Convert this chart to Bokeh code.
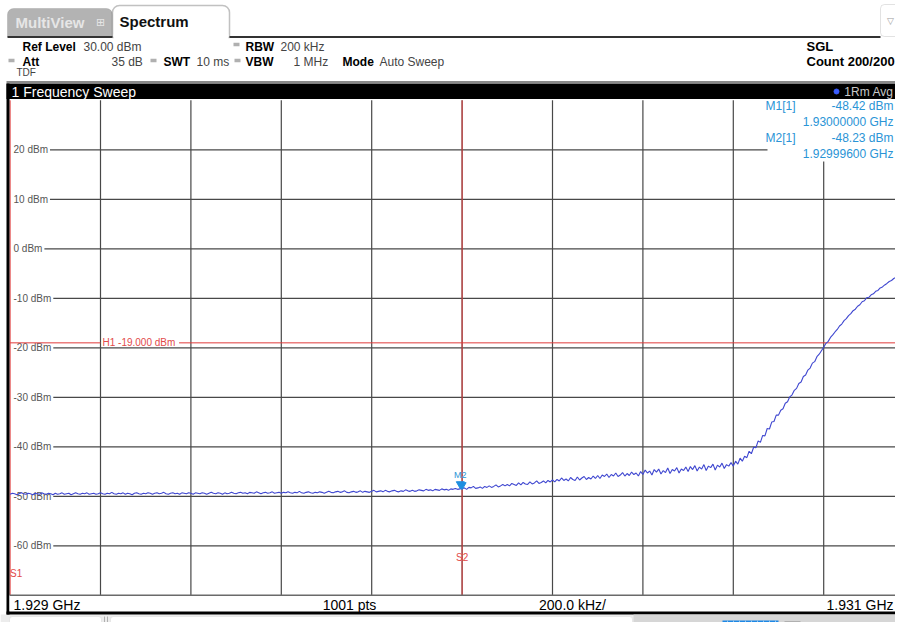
import numpy as np
from bokeh.plotting import figure
from bokeh.models import Range1d, ColumnDataSource, BoxAnnotation
from bokeh.core.properties import value
from bokeh.embed import file_html
from bokeh.resources import INLINE

# ---------------- instrument settings and data ----------------
F_START_GHZ = 1.929
F_STOP_GHZ = 1.931
N_DIV = 10
SWEEP_POINTS = 1001
REF_LEVEL_DBM = 30.0
DB_PER_DIV = 10.0
Y_TICKS_DBM = [20, 10, 0, -10, -20, -30, -40, -50, -60]
Y_TICK_LABELS = ["20 dBm", "10 dBm", "0 dBm", "-10 dBm", "-20 dBm",
                 "-30 dBm", "-40 dBm", "-50 dBm", "-60 dBm"]
H1_LEVEL_DBM = -19.0
S1_FREQ_GHZ = 1.929
S2_FREQ_GHZ = 1.930
M1_FREQ_GHZ = 1.93000000
M1_LEVEL_DBM = -48.42
M2_FREQ_GHZ = 1.92999600
M2_LEVEL_DBM = -48.23

TRACE_DBM = [
    -49.6, -49.4, -49.5, -49.7, -49.5, -49.3, -49.5, -49.6, -49.4, -49.5, -49.7, -49.4, -49.5, -49.6, -49.3, -49.5, -49.6, -49.4, -49.5, -49.7,
    -49.4, -49.6, -49.5, -49.3, -49.6, -49.5, -49.4, -49.7, -49.5, -49.3, -49.5, -49.6, -49.4, -49.5, -49.3, -49.6, -49.5, -49.4, -49.6, -49.5,
    -49.3, -49.5, -49.6, -49.4, -49.5, -49.2, -49.5, -49.6, -49.4, -49.5, -49.3, -49.6, -49.4, -49.5, -49.7, -49.4, -49.3, -49.5, -49.6, -49.4,
    -49.5, -49.3, -49.4, -49.6, -49.4, -49.3, -49.5, -49.4, -49.2, -49.5, -49.6, -49.4, -49.3, -49.5, -49.4, -49.6, -49.3, -49.4, -49.5, -49.3,
    -49.4, -49.6, -49.3, -49.4, -49.5, -49.3, -49.4, -49.6, -49.4, -49.2, -49.4, -49.5, -49.3, -49.4, -49.6, -49.3, -49.5, -49.4, -49.2, -49.4,
    -49.5, -49.3, -49.2, -49.4, -49.3, -49.5, -49.2, -49.3, -49.4, -49.1, -49.3, -49.5, -49.3, -49.2, -49.4, -49.3, -49.1, -49.4, -49.3, -49.2,
    -49.4, -49.2, -49.3, -49.1, -49.3, -49.4, -49.2, -49.3, -49.0, -49.3, -49.4, -49.2, -49.1, -49.3, -49.4, -49.2, -49.3, -49.1, -49.2, -49.4,
    -49.2, -49.0, -49.2, -49.3, -49.1, -49.0, -49.2, -49.1, -48.9, -49.2, -49.3, -49.1, -49.0, -49.2, -49.1, -48.9, -49.2, -49.0, -49.1, -49.2,
    -49.0, -48.8, -49.1, -49.0, -48.9, -49.1, -48.8, -49.0, -49.1, -48.9, -48.8, -49.0, -49.1, -48.9, -49.0, -48.7, -48.9, -49.0, -48.8, -49.0,
    -48.9, -48.7, -48.8, -48.9, -48.6, -48.8, -48.7, -48.9, -48.6, -48.7, -48.8, -48.5, -48.7, -48.6, -48.8, -48.5, -48.6, -48.4, -48.6, -48.5,
    -48.4, -48.3, -48.6, -48.2, -48.3, -48.0, -48.4, -48.3, -48.1, -48.4, -48.0, -48.2, -47.9, -48.2, -48.0, -47.7, -48.1, -47.9, -47.6, -47.9,
    -47.6, -47.9, -47.4, -47.6, -47.8, -47.3, -47.7, -47.2, -47.5, -47.6, -47.1, -47.5, -47.3, -46.9, -47.4, -47.2, -46.9, -47.3, -46.8, -47.1,
    -46.7, -47.1, -46.6, -46.9, -46.3, -46.8, -46.5, -46.9, -46.2, -46.6, -46.8, -46.1, -46.7, -46.3, -46.0, -46.6, -46.2, -46.5, -45.9, -46.4,
    -45.8, -46.4, -45.7, -46.0, -45.5, -46.2, -45.6, -45.9, -45.3, -46.0, -45.7, -45.2, -45.9, -45.4, -45.8, -45.1, -45.6, -45.3, -45.9, -45.0,
    -45.6, -44.7, -45.3, -44.9, -45.7, -44.6, -45.1, -44.5, -45.5, -44.8, -45.2, -44.3, -45.4, -44.6, -44.9, -44.2, -45.3, -44.5, -44.8, -44.1,
    -45.0, -44.0, -44.6, -43.8, -44.9, -44.1, -44.5, -43.6, -44.8, -43.9, -44.2, -43.5, -44.7, -43.7, -44.1, -43.3, -44.4, -43.6, -43.9, -43.2,
    -43.9, -42.9, -43.5, -42.3, -42.9, -41.9, -42.2, -40.9, -41.4, -40.1, -40.2, -38.8, -39.1, -37.7, -37.8, -36.3, -36.4, -35.0, -34.9, -33.6,
    -33.6, -32.6, -32.3, -31.2, -30.9, -29.9, -29.5, -28.6, -28.2, -27.2, -26.9, -25.8, -25.5, -24.5, -24.1, -23.1, -22.8, -21.8, -21.3, -20.6,
    -19.9, -19.1, -18.7, -17.9, -17.4, -16.8, -16.3, -15.6, -15.2, -14.5, -14.1, -13.5, -13.1, -12.5, -12.2, -11.6, -11.3, -10.7, -10.5, -9.9,
    -9.8, -9.3, -9.1, -8.6, -8.4, -7.9, -7.7, -7.3, -7.0, -6.6, -6.4, -6.0, -5.8, -5.4, -5.2, -4.9, -4.7, -4.3, -4.1, -3.8,
    -3.4,
]

# ---------------- screen geometry (pixels of the instrument screen) ----------------
CANVAS_X0, CANVAS_X1 = 0, 895      # visible part of the screen
CANVAS_Y0, CANVAS_Y1 = 0, 622
PX_LEFT, PX_RIGHT = 9.6, 913.6     # left/right edge of the diagram
PY_TOP, PY_BOT = 99.8, 594.8       # top/bottom edge of the diagram
RIGHT_TEXT = 893                   # right edge used for right-aligned texts

F_PER_PX = (F_STOP_GHZ - F_START_GHZ) / (PX_RIGHT - PX_LEFT)
DB_PER_PX = (DB_PER_DIV * N_DIV) / (PY_BOT - PY_TOP)
BOTTOM_DBM = REF_LEVEL_DBM - DB_PER_DIV * N_DIV

FONT = "Liberation Sans"

p = figure(width=CANVAS_X1 - CANVAS_X0, height=CANVAS_Y1 - CANVAS_Y0,
           x_range=Range1d(CANVAS_X0, CANVAS_X1), y_range=Range1d(CANVAS_Y1, CANVAS_Y0),
           x_axis_type=None, y_axis_type=None, toolbar_location=None,
           output_backend="svg", min_border=0, outline_line_color=None,
           background_fill_color="white", border_fill_color="white")
p.extra_x_ranges = {"f": Range1d(F_START_GHZ + (CANVAS_X0 - PX_LEFT) * F_PER_PX,
                                 F_START_GHZ + (CANVAS_X1 - PX_LEFT) * F_PER_PX)}
p.extra_y_ranges = {"dbm": Range1d(REF_LEVEL_DBM - (CANVAS_Y1 - PY_TOP) * DB_PER_PX,
                                   REF_LEVEL_DBM + (PY_TOP - CANVAS_Y0) * DB_PER_PX)}


def text(x, y, s, size="12px", color="#000000", bold=False, align="left",
         baseline="middle", font=FONT, **kw):
    src = ColumnDataSource(dict(x=[x], y=[y], t=[s]))
    p.text(x="x", y="y", text="t", source=src, text_font=value(font),
           text_font_size=value(size), text_color=color,
           text_font_style=value("bold" if bold else "normal"),
           text_align=value(align), text_baseline=value(baseline), **kw)


def box(**kw):
    kw.setdefault("fill_alpha", 1)
    p.add_layout(BoxAnnotation(level="underlay", **kw))


CW = {"0": .556, "1": .556, "2": .556, "3": .556, "4": .556, "5": .556, "6": .556,
      "7": .556, "8": .556, "9": .556, " ": .278, "-": .333, ".": .278, "d": .556,
      "B": .667, "m": .833, "H": .722}


def text_width(s, size_px):
    return sum(CW.get(c, 0.56) for c in s) * size_px


# ---------------- window chrome ----------------
box(left=7, right=112, top=8, bottom=36, fill_color="#b3b3b3", line_color="#8c8c8c",
    line_width=1, border_radius=(6, 6, 0, 0))
box(left=112, right=229, top=5, bottom=37, fill_color="white", line_color="#333333",
    line_width=1.5, border_radius=(7, 7, 0, 0))
box(left=880, right=912, top=4, bottom=36, fill_color="white", line_color="#a0a0a0",
    line_width=1, border_radius=4)
p.segment(x0=[7, 229], y0=[36.5, 36.5], x1=[112, 880], y1=[36.5, 36.5],
          line_color="#333333", line_width=2)
p.quad(left=[113], right=[228], top=[34], bottom=[38.5], fill_color="white", line_color=None)
text(15, 22, "MultiView", size="15px", color="#e6e6e6", bold=True)
text(100, 22, "\u229e", size="11px", color="#e6e6e6", font="DejaVu Sans", align="center")
text(119, 21, "Spectrum", size="15px", color="#111111", bold=True)
text(890, 20, "\u25bd", size="9px", color="#9a9a9a", font="DejaVu Sans", align="center")

# setting bullets
p.rect(x=[236, 11, 153, 237], y=[44, 60, 60, 60], width=6, height=3.5,
       fill_color="#b0b0b0", line_color=None)
text(22, 46, "Ref Level", bold=True)
text(83, 46, f"{REF_LEVEL_DBM:.2f} dBm", color="#444444")
text(245, 46, "RBW", bold=True)
text(280, 46, "200 kHz", color="#444444")
text(22, 61, "Att", bold=True)
text(111, 61, "35 dB", color="#444444")
text(163, 61, "SWT", bold=True)
text(196, 61, "10 ms", color="#444444")
text(245, 61, "VBW", bold=True)
text(293, 61, "1 MHz", color="#444444")
text(342, 61, "Mode", bold=True)
text(379, 61, "Auto Sweep", color="#444444")
text(16, 72, "TDF", size="10px", color="#444444")
text(806, 46, "SGL", size="13px", bold=True)
text(806, 61, "Count 200/200", size="13px", bold=True)

# title bar of the diagram
p.quad(left=[6], right=[915], top=[83], bottom=[98.5], fill_color="black", line_color=None)
p.segment(x0=[6], y0=[81.5], x1=[915], y1=[81.5], line_color="#8a8a8a", line_width=2)
text(11, 91, "1 Frequency Sweep", size="14px", color="white")
p.scatter(x=[836], y=[91], size=5, marker="circle", color="#3a5cff")
text(RIGHT_TEXT, 91, "1Rm Avg", size="12px", color="#c8c8c8", align="right")

# ---------------- diagram ----------------
grid_f = [F_START_GHZ + k * (F_STOP_GHZ - F_START_GHZ) / N_DIV for k in range(1, N_DIV)]
p.segment(x0=grid_f, y0=[BOTTOM_DBM] * len(grid_f), x1=grid_f,
          y1=[REF_LEVEL_DBM] * len(grid_f), x_range_name="f", y_range_name="dbm",
          line_color="#484848", line_width=1.2)
label_x = 13
p.segment(x0=[label_x + text_width(s, 10) + 2 for s in Y_TICK_LABELS], y0=Y_TICKS_DBM,
          x1=[PX_RIGHT] * len(Y_TICKS_DBM), y1=Y_TICKS_DBM, y_range_name="dbm",
          line_color="#484848", line_width=1.2)
p.text(x=[label_x] * len(Y_TICKS_DBM), y=Y_TICKS_DBM, text=Y_TICK_LABELS,
       y_range_name="dbm", text_font=value(FONT), text_font_size=value("10px"),
       text_color="#555555", text_align=value("left"), text_baseline=value("middle"))

# display line H1
h1_label = f"H1  {H1_LEVEL_DBM:.3f} dBm"
h1_x = 102
p.segment(x0=[PX_LEFT, h1_x + text_width(h1_label, 10) + 1], y0=[H1_LEVEL_DBM] * 2,
          x1=[h1_x - 2, PX_RIGHT], y1=[H1_LEVEL_DBM] * 2, y_range_name="dbm",
          line_color="#e03a3a", line_width=1)
text(h1_x, H1_LEVEL_DBM, h1_label, size="10px", color="#e24a4a", y_range_name="dbm")

# frequency lines S1 / S2
p.segment(x0=[S1_FREQ_GHZ, S2_FREQ_GHZ], y0=[BOTTOM_DBM] * 2,
          x1=[S1_FREQ_GHZ, S2_FREQ_GHZ], y1=[REF_LEVEL_DBM] * 2,
          x_range_name="f", y_range_name="dbm", line_color="#e03a3a", line_width=1)
text(S2_FREQ_GHZ, 557, "S2", size="10px", color="#e24a4a", align="center", x_range_name="f")
text(S1_FREQ_GHZ, 573, "S1", size="10px", color="#e24a4a", x_range_name="f")

# trace
freq = np.linspace(F_START_GHZ, F_STOP_GHZ, len(TRACE_DBM))
p.line(freq, TRACE_DBM, x_range_name="f", y_range_name="dbm",
       line_color="#3f47d0", line_width=1.1)

# markers
p.scatter(x=[M1_FREQ_GHZ, M2_FREQ_GHZ],
          y=[M1_LEVEL_DBM + 3.5 * DB_PER_PX, M2_LEVEL_DBM + 3.5 * DB_PER_PX],
          marker="inverted_triangle", size=8, color="#1f8fe0",
          x_range_name="f", y_range_name="dbm")
text(M2_FREQ_GHZ, M2_LEVEL_DBM + 13 * DB_PER_PX, "M2", size="9px", color="#2a94d6",
     align="center", x_range_name="f", y_range_name="dbm")

# marker readout box
p.quad(left=[767], right=[915], top=[99], bottom=[161], fill_color="white", line_color=None)
MK = "#2a94d6"
text(765, 105, "M1[1]", size="12px", color=MK)
text(RIGHT_TEXT, 105, f"{M1_LEVEL_DBM:.2f} dBm", size="12px", color=MK, align="right")
text(RIGHT_TEXT, 121, f"{M1_FREQ_GHZ:.8f} GHz", size="12px", color=MK, align="right")
text(765, 137, "M2[1]", size="12px", color=MK)
text(RIGHT_TEXT, 137, f"{M2_LEVEL_DBM:.2f} dBm", size="12px", color=MK, align="right")
text(RIGHT_TEXT, 153, f"{M2_FREQ_GHZ:.8f} GHz", size="12px", color=MK, align="right")

# left border of the diagram
p.segment(x0=[7.5], y0=[83], x1=[7.5], y1=[614], line_color="black", line_width=3)

# ---------------- status bar ----------------
p.quad(left=[9], right=[915], top=[PY_BOT], bottom=[611], fill_color="white", line_color=None)
p.segment(x0=[9], y0=[PY_BOT], x1=[915], y1=[PY_BOT], line_color="#6a6a6a", line_width=1.5)
p.segment(x0=[6], y0=[612.5], x1=[915], y1=[612.5], line_color="black", line_width=3)
span_khz = (F_STOP_GHZ - F_START_GHZ) / N_DIV * 1e6
text(13, 604, f"{F_START_GHZ:.3f} GHz", size="14px")
text(349, 604, f"{SWEEP_POINTS} pts", size="14px", align="center")
text(572, 604, f"{span_khz:.1f} kHz/", size="14px", align="center")
text(RIGHT_TEXT, 604, f"{F_STOP_GHZ:.3f} GHz", size="14px", align="right")

# bottom soft-key strip
box(left=0, right=915, top=614, bottom=640, fill_color="#ececec", line_color=None)
box(left=9, right=101, top=616, bottom=642, fill_color="white", line_color="#c4c4c4",
    border_radius=3)
box(left=110, right=632, top=616, bottom=642, fill_color="white", line_color="#c4c4c4",
    border_radius=3)
p.segment(x0=[104, 107], y0=[616, 616], x1=[104, 107], y1=[640, 640],
          line_color="#b0b0b0", line_width=1)
p.quad(left=[633], right=[915], top=[614], bottom=[640], fill_color="#d6d6d6", line_color=None)
p.quad(left=[722], right=[778], top=[620], bottom=[632], fill_color="#1e88e5", line_color=None)
p.segment(x0=list(range(727, 778, 6)), y0=[620] * 9, x1=list(range(727, 778, 6)),
          y1=[632] * 9, line_color="#8cc4f2", line_width=1)
p.quad(left=[784], right=[800], top=[621], bottom=[630], fill_color="#8a8a8a", line_color=None)

open("out.html", "w").write(file_html(p, INLINE))
